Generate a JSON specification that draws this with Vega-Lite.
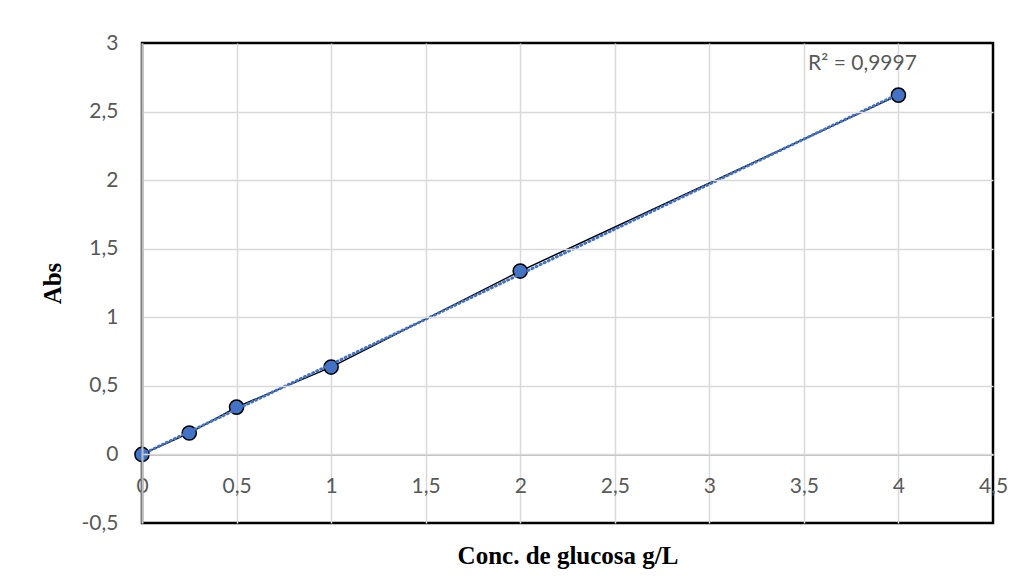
{
  "$schema": "https://vega.github.io/schema/vega-lite/v6.json",
  "width": 851,
  "height": 480,
  "autosize": {"type": "none"},
  "padding": {"left": 142, "top": 43, "right": 32, "bottom": 60},
  "background": "white",
  "config": {
    "locale": {
      "number": {"decimal": ",", "thousands": ".", "grouping": [3], "currency": ["", " €"], "minus": "-"}
    },
    "view": {"stroke": "black", "strokeWidth": 2.5},
    "axis": {
      "labelFont": "Lato",
      "labelFontSize": 21,
      "labelColor": "#595959",
      "gridColor": "#d9d9d9",
      "gridWidth": 1.5,
      "domainColor": "#bfbfbf",
      "domainWidth": 2,
      "ticks": false,
      "labelFlush": false,
      "labelOverlap": false,
      "titleFont": "Liberation Serif",
      "titleFontWeight": "bold",
      "titleFontSize": 25,
      "titleColor": "black"
    }
  },
  "datasets": {
    "calib": [
      {"conc": 0, "abs": 0},
      {"conc": 0.25, "abs": 0.156},
      {"conc": 0.5, "abs": 0.345},
      {"conc": 1, "abs": 0.637},
      {"conc": 2, "abs": 1.337},
      {"conc": 4, "abs": 2.62}
    ],
    "fit_label": [
      {"conc": 3.81, "abs": 2.85, "label": "R² = 0,9997"}
    ]
  },
  "resolve": {"axis": {"x": "independent"}},
  "layer": [
    {
      "data": {"name": "calib"},
      "mark": {"type": "line", "color": "black", "strokeWidth": 1.5},
      "encoding": {
        "x": {
          "field": "conc", "type": "quantitative",
          "scale": {"domain": [0, 4.5], "nice": false, "zero": false},
          "axis": {
            "orient": "bottom",
            "title": "Conc. de glucosa g/L",
            "values": [0, 0.5, 1, 1.5, 2, 2.5, 3, 3.5, 4, 4.5],
            "grid": true,
            "gridOpacity": {"condition": {"test": "datum.value >= 4.5", "value": 0}, "value": 1},
            "labels": false, "domain": false,
            "titlePadding": 20
          }
        },
        "y": {
          "field": "abs", "type": "quantitative",
          "scale": {"domain": [-0.5, 3], "nice": false, "zero": false},
          "axis": {
            "title": "Abs",
            "values": [-0.5, 0, 0.5, 1, 1.5, 2, 2.5, 3],
            "format": "~g",
            "grid": true,
            "gridOpacity": {"condition": {"test": "datum.value <= -0.5 || datum.value >= 3", "value": 0}, "value": 1},
            "labelPadding": 24,
            "titlePadding": 16,
            "zindex": 1
          }
        }
      }
    },
    {
      "data": {"name": "calib"},
      "mark": {"type": "point", "shape": "circle", "filled": true, "size": 200, "fill": "#4472C4", "stroke": "black", "strokeWidth": 1.5, "opacity": 1},
      "encoding": {
        "x": {"field": "conc", "type": "quantitative", "axis": null},
        "y": {"field": "abs", "type": "quantitative"}
      }
    },
    {
      "data": {"name": "calib"},
      "transform": [
        {"regression": "abs", "on": "conc", "method": "linear", "extent": [0, 4]}
      ],
      "mark": {"type": "line", "color": "#4472C4", "strokeWidth": 3, "strokeDash": [1, 3.5], "strokeCap": "round"},
      "encoding": {
        "x": {
          "field": "conc", "type": "quantitative",
          "axis": {
            "orient": "bottom",
            "title": null,
            "values": [0, 0.5, 1, 1.5, 2, 2.5, 3, 3.5, 4, 4.5],
            "format": "~g",
            "grid": false,
            "offset": -68.6,
            "labelPadding": 21
          }
        },
        "y": {"field": "abs", "type": "quantitative"}
      }
    },
    {
      "data": {"name": "fit_label"},
      "mark": {"type": "text", "font": "Lato", "fontSize": 21, "color": "#595959", "align": "center", "baseline": "middle"},
      "encoding": {
        "x": {"field": "conc", "type": "quantitative", "axis": null},
        "y": {"field": "abs", "type": "quantitative"},
        "text": {"field": "label"}
      }
    }
  ]
}
